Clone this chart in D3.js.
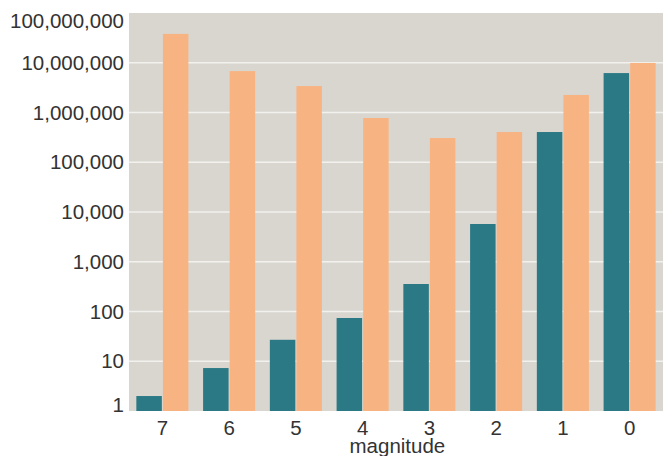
<!DOCTYPE html>
<meta charset="utf-8">
<script src="https://d3js.org/d3.v7.min.js"></script>
<style>
  body { margin: 0; background: #fff; }
  text { font-family: "Liberation Sans", Arial, sans-serif; fill: #333; }
</style>
<div id="chart"></div>
<script>

// categories (magnitude) and the two series
var magnitudes = ["7", "6", "5", "4", "3", "2", "1", "0"];
var seriesA = [2, 7.3, 27, 74, 357, 5740, 405000, 6200000];
var seriesB = [38000000, 6800000, 3400000, 775000, 307000, 405000, 2250000, 9900000];
var yTicks = [1, 10, 100, 1000, 10000, 100000, 1000000, 10000000, 100000000];

var W = 663, H = 456;
var margin = {top: 13, right: 0, bottom: 45, left: 129},
    width = W - margin.left - margin.right,
    height = H - margin.top - margin.bottom;

var svg = d3.select("#chart")
  .append("svg")
    .attr("width", W)
    .attr("height", H);

var g = svg.append("g")
  .attr("transform", "translate(" + margin.left + "," + margin.top + ")");

// background panel
g.append("rect")
  .attr("width", width)
  .attr("height", height)
  .attr("fill", "#d9d6cf");

var x = d3.scaleBand()
  .domain(magnitudes)
  .range([0, width])
  .paddingInner(0.22)
  .paddingOuter(0.11);

var xs = d3.scaleBand()
  .domain(["a", "b"])
  .range([0, x.bandwidth()])
  .paddingInner(0.04);

var y = d3.scaleLog()
  .domain([1, 1e8])
  .range([height, 0]);

// grid lines
g.selectAll(".grid")
  .data(yTicks.slice(1, -1))
  .enter()
  .append("line")
    .attr("x1", 0)
    .attr("x2", width)
    .attr("y1", function(d) { return y(d); })
    .attr("y2", function(d) { return y(d); })
    .attr("stroke", "#f2f1ee")
    .attr("stroke-width", 1.5);

var rows = magnitudes.map(function(m, i) {
  return {m: m, a: seriesA[i], b: seriesB[i]};
});

var groups = g.selectAll(".grp")
  .data(rows)
  .enter()
  .append("g")
    .attr("transform", function(d) { return "translate(" + x(d.m) + ",0)"; });

groups.append("rect")
  .attr("x", xs("a"))
  .attr("width", xs.bandwidth())
  .attr("y", function(d) { return y(d.a); })
  .attr("height", function(d) { return height - y(d.a); })
  .attr("fill", "#2b7985");

groups.append("rect")
  .attr("x", xs("b"))
  .attr("width", xs.bandwidth())
  .attr("y", function(d) { return y(d.b); })
  .attr("height", function(d) { return height - y(d.b); })
  .attr("fill", "#f8b383");

// y axis labels (kept inside the panel at the ends)
var fmt = d3.format(",");
g.selectAll(".ylab")
  .data(yTicks)
  .enter()
  .append("text")
    .attr("x", -5)
    .attr("y", function(d) { return Math.max(7.5, Math.min(height - 6, y(d))); })
    .attr("dy", "0.35em")
    .attr("text-anchor", "end")
    .style("font-size", "20.5px")
    .text(function(d) { return fmt(d); });

// x axis labels
g.selectAll(".xlab")
  .data(magnitudes)
  .enter()
  .append("text")
    .attr("x", function(d) { return x(d) + x.bandwidth() / 2; })
    .attr("y", height + 17)
    .attr("dy", "0.35em")
    .attr("text-anchor", "middle")
    .style("font-size", "20.5px")
    .text(function(d) { return d; });

g.append("text")
  .attr("x", x("3") + x.bandwidth() / 2 - 32)
  .attr("y", height + 35)
  .attr("dy", "0.35em")
  .attr("text-anchor", "middle")
  .style("font-size", "20.5px")
  .text("magnitude");

</script>
